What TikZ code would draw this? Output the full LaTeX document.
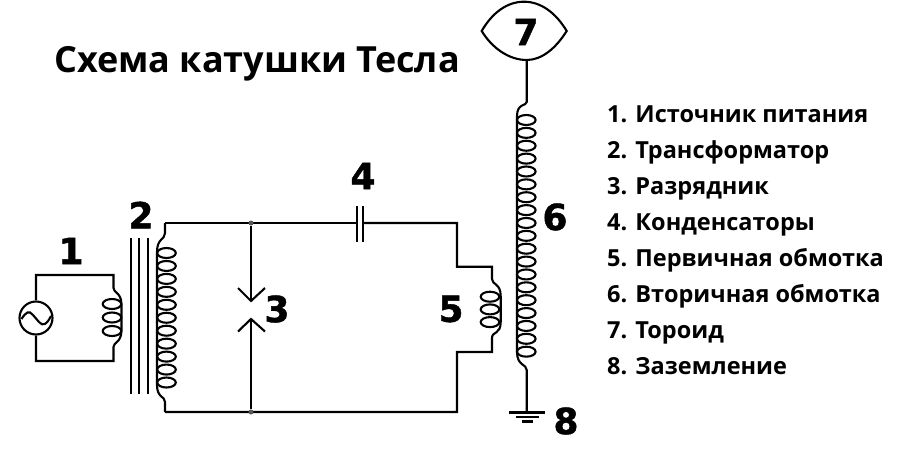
\documentclass[tikz,border=0pt]{standalone}
\usepackage{fontspec}
\setmainfont{Open Sans}
\newfontfamily\digitfont[FakeBold=1.2]{DejaVu Sans Bold}
\tikzset{
 wire/.style={line width=2.1pt,black,line join=miter},
 digit/.style={font=\fontsize{36}{36}\selectfont\digitfont,inner sep=0pt,anchor=center},
 legend/.style={font=\fontsize{23.5}{23.5}\selectfont\bfseries,inner sep=0pt,anchor=base west},
 title/.style={font=\fontsize{36}{36}\selectfont\bfseries,inner sep=0pt,anchor=base west},
 dotj/.style={circle,fill=black!65,inner sep=0pt,minimum size=5pt},
}
\newcommand{\loops}[4]{% cx, first y, step, count
 \foreach \i in {1,...,#4}{\draw[wire] ({#1},{#2+(\i-1)*#3}) ellipse [x radius=9.3,y radius=5];}}
\begin{document}
\begin{tikzpicture}[x=1pt,y=-1pt]
\useasboundingbox (0,0) rectangle (900,472);
\fill[white] (0,0) rectangle (900,472);
\node[title] (ttl) at (54,72) {Схема катушки Тесла};
% source
\node[circle,draw,line width=2.1pt,minimum size=33pt,inner sep=0pt] (src) at (36,318) {};
\draw[wire] (21.5,319) .. controls (26,312) and (29,310) .. (33,315) -- (39,322) .. controls (43,327) and (47,324) .. (51,316);
\coordinate (a1) at (113.5,288); \coordinate (a2) at (113.5,347);
\draw[wire] (src.north) |- (113.5,275) -- (a1) .. controls (113.5,293) and (121,292) .. (121.5,304) -- (121.5,331) .. controls (121,343) and (113.5,342) .. (a2) -- (113.5,361) -| (src.south);
\loops{112}{304}{13.5}{3}
% core
\foreach \x in {131,139,148}{\draw[wire] (\x,238) -- (\x,394);}
% secondary of transformer and primary loop
\coordinate (tl) at (165,223); \coordinate (bl) at (165,412);
\coordinate (j1) at (251,223); \coordinate (j2) at (251,412);
\draw[wire] (tl) -- (165,233) .. controls (165,240) and (157,238) .. (157,252) -- (157,385) .. controls (157,398) and (165,396) .. (165,402) -- (bl);
\loops{166.5}{253}{12.95}{11}
\coordinate (cl) at (356.7,223); \coordinate (cr) at (362.7,223);
\draw[wire] (tl) -- (cl);
\draw[wire] (cl |- 0,206) -- (cl |- 0,242);
\draw[wire] (cr |- 0,206) -- (cr |- 0,242);
\draw[wire] (cr) -- (457,223) -- (457,266.7) -- (492,266.7) -- (492,279) .. controls (492,285) and (500.7,283) .. (500.7,296) -- (500.7,322) .. controls (500.7,335) and (492,331) .. (492,338) -- (492,352) -- (457,352) -- (457,412) -- (bl);
\loops{490}{296.7}{12.7}{3}
% spark gap
\node[dotj] (d1) at (j1) {}; \node[dotj] (d2) at (j2) {};
\coordinate (g1) at (251,301); \coordinate (g2) at (251,319);
\draw[wire] (d1) -- (g1); \draw[wire] (d2) -- (g2);
\draw[wire] (238,288) -- (g1) -- (265,288);
\draw[wire] (238,331.5) -- (g2) -- (265,331.5);
% toroid
\node[inner sep=0pt,minimum size=0pt] (tor) at (526.7,60) {};
\draw[wire] (481.7,31) .. controls (492,13) and (507,1.7) .. (524,1.7) .. controls (541,1.7) and (556,13) .. (566.7,31) .. controls (556,48) and (542,60) .. (tor.center) .. controls (509,60) and (492,48) .. (481.7,31) -- cycle;
% tesla secondary
\coordinate (gnd) at (526.7,412.5);
\draw[wire] (tor.center) -- (526.7,102) .. controls (526.7,106) and (517,103) .. (517,116) -- (517,352) .. controls (517,366) and (526.7,364) .. (526.7,370) -- (gnd);
\loops{526.3}{120}{12.87}{19}
\draw[wire] (509,412.5) -- (545,412.5);
\draw[wire] (516,417) -- (539,417);
\draw[wire] (522,421.5) -- (533,421.5);
% digits
\node[digit] (n1) at (71,251) {1};
\node[digit] (n2) at (141,215) {2};
\node[digit] (n3) at (277,309) {3};
\node[digit] (n4) at (363,176) {4};
\node[digit] (n5) at (451,309) {5};
\node[digit] (n6) at (555,217) {6};
\node[digit] (n7) at (526,32) {7};
\node[digit] (n8) at (566,421) {8};
% legend
\node[legend] (l1) at (607,122) {1. Источник питания};
\node[legend] (l2) at (607,158) {2. Трансформатор};
\node[legend] (l3) at (607,194) {3. Разрядник};
\node[legend] (l4) at (607,230) {4. Конденсаторы};
\node[legend] (l5) at (607,266) {5. Первичная обмотка};
\node[legend] (l6) at (607,302) {6. Вторичная обмотка};
\node[legend] (l7) at (607,338) {7. Тороид};
\node[legend] (l8) at (607,374) {8. Заземление};
\end{tikzpicture}
\end{document}
